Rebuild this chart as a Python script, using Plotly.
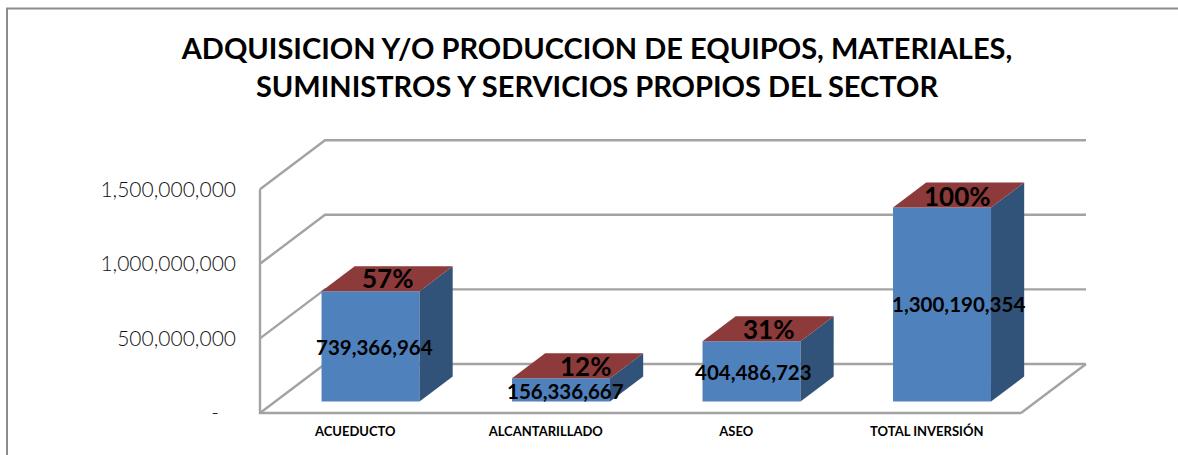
import plotly.graph_objects as go

categories = ["ACUEDUCTO", "ALCANTARILLADO", "ASEO", "TOTAL INVERSIÓN"]
values = [739366964, 156336667, 404486723, 1300190354]
percent_labels = ["57%", "12%", "31%", "100%"]
value_labels = ["739,366,964", "156,336,667", "404,486,723", "1,300,190,354"]
tick_values = [0, 500000000, 1000000000, 1500000000]
tick_labels = ["-\u00a0\u00a0\u00a0", "500,000,000", "1,000,000,000", "1,500,000,000"]
title_text = "ADQUISICION Y/O PRODUCCION DE EQUIPOS, MATERIALES,<br>SUMINISTROS Y SERVICIOS PROPIOS DEL SECTOR"

# layout and oblique-projection settings
W, H = 1178, 455
L, R, T, B = 260, 1086, 140, 413
PAD = 4
PX_PER_CAT = 190.5
PX_PER_UNIT = 74.6 / 5e8
DEPTH_X = 65.0 / PX_PER_CAT
DEPTH_Y = 49.0 / PX_PER_UNIT
XMIN, XMAX = -0.5, -0.5 + (R - L) / PX_PER_CAT
YMAX = (B - T) / PX_PER_UNIT
BAR_W = 98.0 / PX_PER_CAT
BAR_D0, BAR_D1 = 0.235, 0.745
FONT = "Lato"
FRONT, SIDE, TOP = "#4F81BD", "#325379", "#8C3A3A"
GRID = "#A3A3A3"
pct_nudge = [(0, 1), (8, 0), (0, 0), (-1, -1)]
val_nudge = [(4, -1), (4, -1), (2, -1), (16, 0)]


def proj(x, y, d):
    return x + d * DEPTH_X, y + d * DEPTH_Y


fig = go.Figure()


def wall_line(points):
    path = "M " + " L ".join(f"{x},{y}" for x, y in points)
    fig.add_shape(type="path", path=path, xref="x", yref="y", layer="below",
                  line=dict(color=GRID, width=2.4), fillcolor="rgba(0,0,0,0)")


# walls and floor, built from the axis ticks
for t in tick_values:
    wall_line([proj(XMIN, t, 0), proj(XMIN, t, 1), proj(XMAX - DEPTH_X, t, 1)])
wall_line([proj(XMAX - DEPTH_X, 0, 0), proj(XMAX - DEPTH_X, 0, 1)])
wall_line([(XMIN, tick_values[-1]), (XMIN, 0), (XMAX - DEPTH_X, 0)])

# bars
base = proj(0, 0, BAR_D0)[1]
shift = proj(0, 0, BAR_D0)[0]
for i, v in enumerate(values):
    c = i + shift
    xl, xr = c - BAR_W / 2, c + BAR_W / 2
    a = proj(xr, base, 0)
    b = proj(xr, base, BAR_D1 - BAR_D0)
    e = proj(xr, base + v, BAR_D1 - BAR_D0)
    g = proj(xl, base + v, BAR_D1 - BAR_D0)
    fig.add_trace(go.Scatter(x=[a[0], b[0], e[0], xr, a[0]], y=[a[1], b[1], e[1], base + v, a[1]],
                             fill="toself", fillcolor=SIDE, mode="lines", line=dict(width=0),
                             hoverinfo="skip", showlegend=False))
    fig.add_trace(go.Scatter(x=[xl, xr, e[0], g[0], xl], y=[base + v, base + v, e[1], g[1], base + v],
                             fill="toself", fillcolor=TOP, mode="lines", line=dict(width=0),
                             hoverinfo="skip", showlegend=False))
fig.add_trace(go.Bar(x=[i + shift for i in range(len(values))], y=values,
                     base=[base] * len(values), width=BAR_W,
                     marker=dict(color=FRONT, line=dict(width=0)),
                     hovertext=categories, showlegend=False))

# data labels
for i, v in enumerate(values):
    c = i + shift
    mid = (BAR_D1 - BAR_D0) / 2
    fig.add_annotation(x=c, y=base + v / 2, text=f"<b>{value_labels[i]}</b>", showarrow=False,
                       xshift=val_nudge[i][0], yshift=val_nudge[i][1],
                       font=dict(family=FONT, size=20.5, color="black"))
    px, py = proj(c, base + v, mid)
    fig.add_annotation(x=px, y=py, text=f"<b>{percent_labels[i]}</b>", showarrow=False,
                       xshift=pct_nudge[i][0], yshift=pct_nudge[i][1],
                       font=dict(family=FONT, size=26, color="black"))

# outer frame: open on the right and at the bottom, where the picture is cropped
pl, pb = L - PAD, B + PAD
pw, ph = R + PAD - pl, pb - (T - PAD)
fig.add_shape(type="rect", xref="paper", yref="paper",
              x0=(7 - pl) / pw, x1=(1195 - pl) / pw,
              y0=(pb - 475) / ph, y1=(pb - 8.5) / ph,
              line=dict(color="#8C8C8C", width=2), fillcolor="rgba(0,0,0,0)", layer="below")

fig.update_layout(
    width=W, height=H, margin=dict(l=pl, r=W - (R + PAD), t=T - PAD, b=H - pb),
    paper_bgcolor="white", plot_bgcolor="rgba(0,0,0,0)", showlegend=False,
    title=dict(text=f"<b>{title_text}</b>", x=597 / W, xanchor="center", y=1 - 59 / H, yanchor="middle",
               font=dict(family=FONT, size=29, color="black")),
    xaxis=dict(range=[XMIN - PAD / PX_PER_CAT, XMAX + PAD / PX_PER_CAT], tickmode="array",
               tickvals=list(range(len(categories))),
               ticktext=[f"<b>{c}</b>" for c in categories], showgrid=False, zeroline=False, showline=False,
               ticks="", ticklabelstandoff=5, tickfont=dict(family=FONT, size=13, color="black")),
    yaxis=dict(range=[-PAD / PX_PER_UNIT, YMAX + PAD / PX_PER_UNIT], tickmode="array",
               tickvals=tick_values, ticktext=tick_labels,
               showgrid=False, zeroline=False, showline=False, ticks="", ticklabelstandoff=19,
               tickfont=dict(family=FONT, size=21, color="#111111", weight=300)),
)

fig.write_html("out.html", config={"displayModeBar": False},
               post_script="document.body.style.margin='0';document.body.style.overflow='hidden';")
